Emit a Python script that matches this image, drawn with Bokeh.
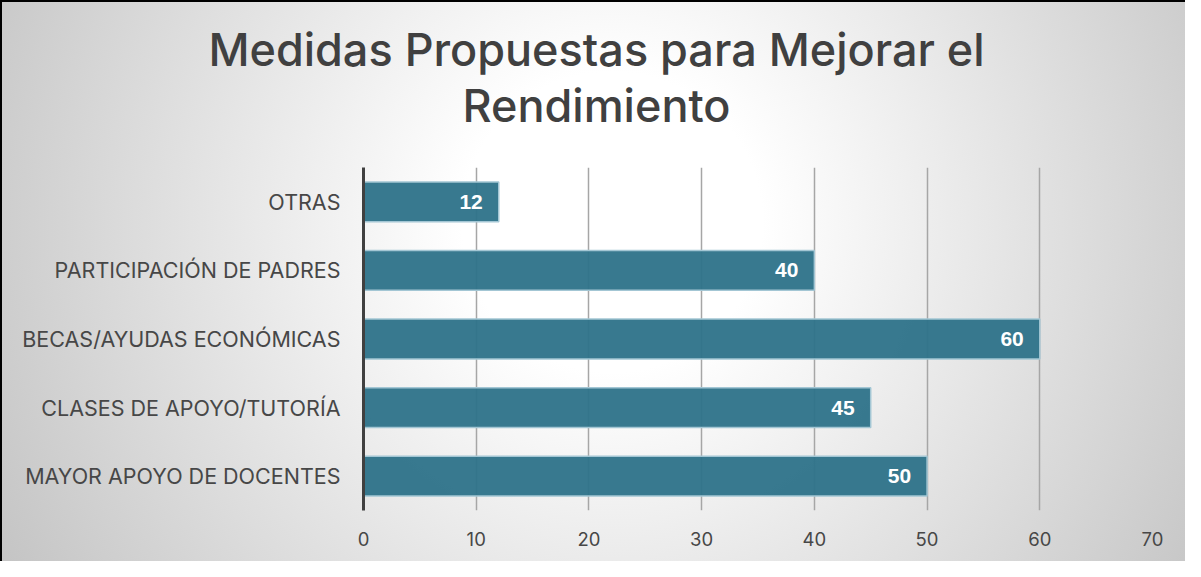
from bokeh.plotting import figure
from bokeh.models import ColumnDataSource, FactorRange, Range1d, LabelSet, InlineStyleSheet, FixedTicker, Div
from bokeh.layouts import column
from bokeh.embed import file_html
from bokeh.resources import INLINE
from bokeh.core.properties import value

# ---- data ----
categories = ["MAYOR APOYO DE DOCENTES", "CLASES DE APOYO/TUTORÍA",
              "BECAS/AYUDAS ECONÓMICAS", "PARTICIPACIÓN DE PADRES", "OTRAS"]
values = [50, 45, 60, 40, 12]
x_ticks = [0, 10, 20, 30, 40, 50, 60, 70]
title_lines = ["Medidas Propuestas para Mejorar el", "Rendimiento"]

source = ColumnDataSource(dict(cat=categories, val=values,
                               lbl=[str(v) for v in values]))

W = 1185
TITLE_H = 140
H = 561 - TITLE_H

title = Div(
    text=('<div style="width:%dpx;text-align:center;font-family:Inter;'
          'font-size:45px;font-weight:500;line-height:56px;color:#404040;'
          'padding-top:22px;padding-left:8px;box-sizing:border-box;">%s</div>')
    % (W, "<br>".join(title_lines)),
    width=W, height=TITLE_H, margin=0)

p = figure(width=W, height=H,
           y_range=FactorRange(factors=categories, range_padding=0),
           x_range=Range1d(0, 70),
           output_backend="svg", toolbar_location=None,
           min_border_left=363, min_border_right=33,
           min_border_top=167 - TITLE_H, min_border_bottom=51)

p.border_fill_color = None
p.background_fill_color = None
p.outline_line_color = None

# bars
p.hbar(y="cat", right="val", left=0, height=0.58, source=source,
       fill_color="#2d7289", fill_alpha=0.95,
       line_color="#a3c6d4", line_width=1.5)

labels = LabelSet(x="val", y="cat", text="lbl", source=source,
                  x_offset=-16, text_align="right", text_baseline="middle",
                  text_color="white", text_font=value("Liberation Sans"),
                  text_font_style="bold", text_font_size="21px")
p.add_layout(labels)

# grid
p.ygrid.grid_line_color = None
p.xgrid.grid_line_color = "#a6a6a6"
p.xgrid.grid_line_width = 1.5
p.xgrid.ticker = FixedTicker(ticks=x_ticks)

# x axis
p.xaxis.ticker = FixedTicker(ticks=x_ticks)
p.xaxis.axis_line_color = None
p.xaxis.major_tick_line_color = None
p.xaxis.minor_tick_line_color = None
p.xaxis.major_label_text_font = "Inter"
p.xaxis.major_label_text_font_size = "18.5px"
p.xaxis.major_label_text_color = "#474747"
p.xaxis.major_label_standoff = 15

# y axis
p.yaxis.axis_line_color = "#404040"
p.yaxis.axis_line_width = 3
p.yaxis.major_tick_line_color = None
p.yaxis.minor_tick_line_color = None
p.yaxis.major_label_text_font = "Inter"
p.yaxis.major_label_text_font_size = "21.5px"
p.yaxis.major_label_text_color = "#474747"
p.yaxis.major_label_standoff = 17

layout = column(title, p, spacing=0, stylesheets=[InlineStyleSheet(css="""
:host {
  background: radial-gradient(circle 720px at 612px 222px, #ffffff 0px, #ffffff 150px, #c2c2c2 720px);
  box-shadow: inset 2px 2px 0 0 #000000;
}
""")])

open("out.html", "w").write(file_html(layout, INLINE))
